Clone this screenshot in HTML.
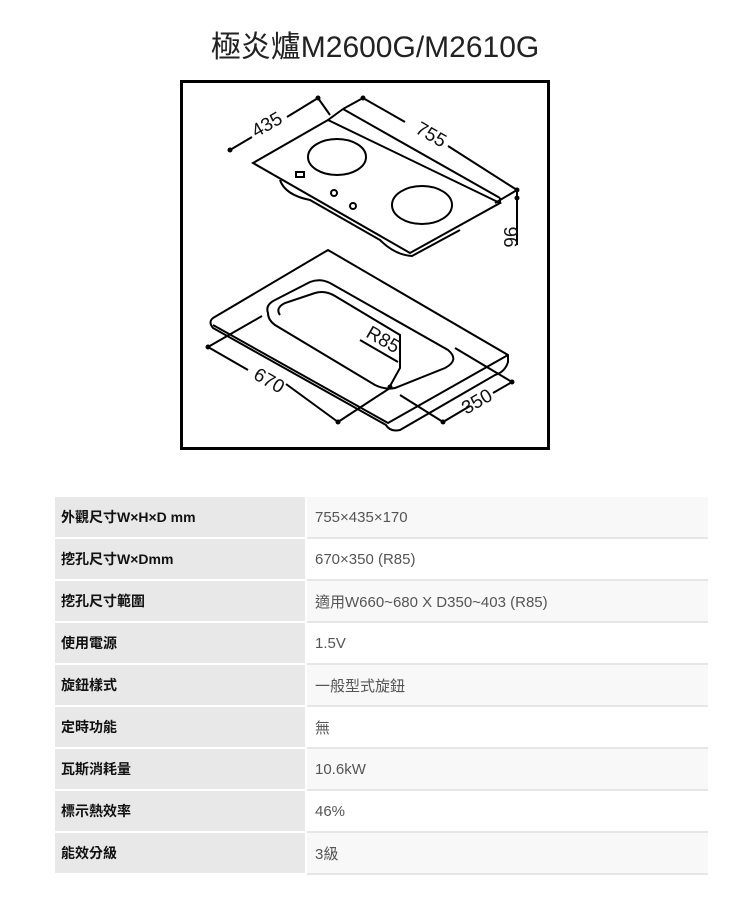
<!DOCTYPE html>
<html><head><meta charset="utf-8">
<style>
body{margin:0;background:#fff;width:750px;height:900px;overflow:hidden;position:relative;font-family:"Liberation Sans","Noto Sans CJK TC",sans-serif}
.title{position:absolute;left:0;top:22px;width:750px;text-align:center;font-size:30px;color:#222}
table{position:absolute;left:55px;top:497px;border-collapse:collapse;width:653px;table-layout:fixed}
td{height:40px;border-bottom:2px solid #fff;padding:0;font-size:15px}
td.l{width:244px;background:#e8e8e8;font-weight:bold;color:#111;padding-left:6px;font-size:14px;border-right:2px solid #fff}
td.r{padding-left:8px;color:#555;border-bottom:2px solid #e6e6e6}
tr:nth-child(odd) td.r{background:#f8f8f8}
tr:nth-child(even) td.r{background:#fff}
</style></head><body>
<div class="title">極炎爐M2600G/M2610G</div>
<svg width="750" height="460" style="position:absolute;left:0;top:0" font-family="Liberation Sans, sans-serif">
<rect x="181.5" y="81.5" width="367" height="367" fill="#fff" stroke="#000" stroke-width="3"/>
<g fill="none" stroke="#000" stroke-width="2">
<path d="M253,163 L328,120 L500,203 L410,253 Z"/>
<path d="M343,109 L500,198"/>
<path d="M328,120 L343,109"/>
<path d="M500,198 L500,203"/>
<path d="M280,180 Q285,195 310,200 L380,240 Q395,255 412,256 L460,230"/>
<ellipse cx="337" cy="157" rx="29" ry="18"/>
<ellipse cx="422" cy="205" rx="30" ry="19"/>
<rect x="296" y="172" width="8" height="5"/>
<circle cx="334" cy="193" r="3"/><circle cx="353" cy="206" r="3"/>
<path d="M230,150 L252,137 M287,117 L318,98 M318,98 L330,115"/>
<path d="M363,98 L405,122 M448,146 L517,190 M363,98 L343,109"/>
<path d="M517,190 L517,245 M495,203 L517,190"/>
<path d="M213,318 L328,250 L508,355 L508,362 Q505,372 495,375 L400,430 Q390,432 386,425 L213,328 Q208,322 213,318"/>
<path d="M213,325 L388,423 L508,355"/>
<path d="M268,313 Q265,305 275,300 L310,282 Q320,278 330,283 L448,350 Q460,360 445,368 L395,388 Q385,390 375,385 L275,325 Q268,320 268,313 Z"/>
<path d="M280,315 Q275,308 285,303 L315,293 Q325,290 335,296 L400,335 L400,368 L390,386"/>
<path d="M208,347 L262,316 M208,347 L248,370 M286,384 L338,422 M338,422 L390,388"/>
<path d="M512,382 L493,393 M470,406 L443,422 M443,422 L400,395 M512,382 L455,348"/>
<path d="M360,340 L398,362"/>
</g>
<g fill="#000">
<circle cx="230" cy="150" r="2.5"/><circle cx="318" cy="98" r="2.5"/><circle cx="363" cy="98" r="2.5"/><circle cx="517" cy="190" r="2.5"/><circle cx="517" cy="198" r="2.5"/>
<circle cx="208" cy="347" r="2.5"/><circle cx="338" cy="422" r="2.5"/><circle cx="512" cy="382" r="2.5"/><circle cx="443" cy="422" r="2.5"/><circle cx="390" cy="387" r="2.5"/>
</g>
<g font-size="19" fill="#111">
<text transform="translate(270,130) rotate(-30)" text-anchor="middle">435</text>
<text transform="translate(428,140) rotate(30)" text-anchor="middle">755</text>
<text transform="translate(504,237) rotate(90)" text-anchor="middle">96</text>
<text transform="translate(380,345) rotate(30)" text-anchor="middle">R85</text>
<text transform="translate(266,386) rotate(30)" text-anchor="middle">670</text>
<text transform="translate(480,407) rotate(-30)" text-anchor="middle">350</text>
</g>
</svg>
<table>
<tr><td class="l">外觀尺寸W×H×D mm</td><td class="r">755×435×170</td></tr>
<tr><td class="l">挖孔尺寸W×Dmm</td><td class="r">670×350 (R85)</td></tr>
<tr><td class="l">挖孔尺寸範圍</td><td class="r">適用W660~680 X D350~403 (R85)</td></tr>
<tr><td class="l">使用電源</td><td class="r">1.5V</td></tr>
<tr><td class="l">旋鈕樣式</td><td class="r">一般型式旋鈕</td></tr>
<tr><td class="l">定時功能</td><td class="r">無</td></tr>
<tr><td class="l">瓦斯消耗量</td><td class="r">10.6kW</td></tr>
<tr><td class="l">標示熱效率</td><td class="r">46%</td></tr>
<tr><td class="l">能效分級</td><td class="r">3級</td></tr>
</table>
</body></html>
